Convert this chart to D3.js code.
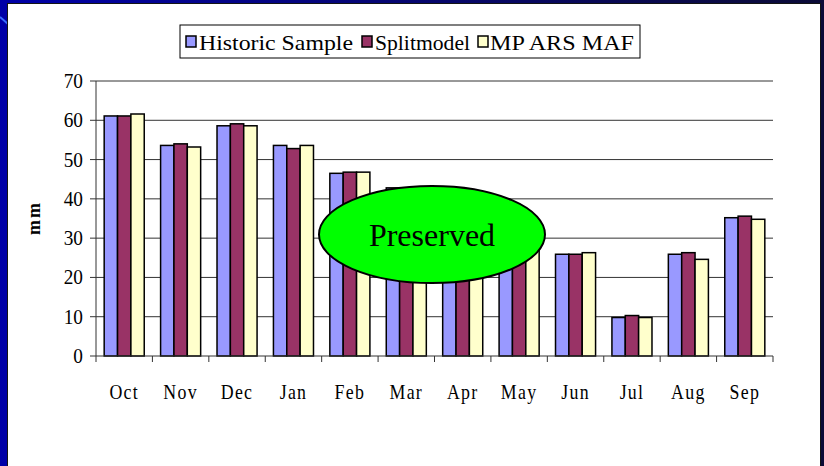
<!DOCTYPE html>
<html>
<head>
<meta charset="utf-8">
<script src="https://cdn.jsdelivr.net/npm/d3@7"></script>
<style>
  body { margin: 0; }
  svg { display: block; font-family: "Liberation Serif", "Times New Roman", serif; }
</style>
</head>
<body>
<script>
// chart data
const months = ['Oct', 'Nov', 'Dec', 'Jan', 'Feb', 'Mar', 'Apr', 'May', 'Jun', 'Jul', 'Aug', 'Sep'];
const seriesNames = ['Historic Sample', 'Splitmodel', 'MPARSMAF'];
const historic = [61.1, 53.6, 58.6, 53.6, 46.5, 42.8, 34.0, 29.0, 25.9, 9.8, 25.9, 35.2];
const splitmodel = [61.1, 54.0, 59.1, 52.8, 46.8, 42.5, 33.5, 29.5, 25.9, 10.3, 26.3, 35.6];
const mparsmaf = [61.6, 53.2, 58.6, 53.6, 46.8, 42.0, 33.0, 28.5, 26.3, 9.8, 24.6, 34.8];
const yTicks = [0, 10, 20, 30, 40, 50, 60, 70];
const colors = ['#9999ff', '#993366', '#ffffcc'];

let width = 824;
let height = 466;

const svg = d3.select('body')
    .append('svg')
    .attr('width', width)
    .attr('height', height);

// slide background
let grad = svg.append('defs').append('linearGradient')
    .attr('id', 'bg')
    .attr('x1', 0).attr('x2', 1).attr('y1', 0).attr('y2', 0);
grad.append('stop').attr('offset', '0%').attr('stop-color', '#0000a8');
grad.append('stop').attr('offset', '100%').attr('stop-color', '#0b0b36');

svg.append('rect')
    .attr('width', width).attr('height', height)
    .attr('fill', 'url(#bg)');
svg.append('line')
    .attr('x1', 0).attr('y1', 17).attr('x2', 8).attr('y2', 24)
    .attr('stroke', '#3a6cff').attr('stroke-width', 2);
svg.append('rect')
    .attr('x', 7).attr('y', 3)
    .attr('width', 814).attr('height', height)
    .attr('fill', '#141414');
svg.append('rect')
    .attr('x', 8).attr('y', 4)
    .attr('width', 812).attr('height', height)
    .attr('fill', '#ffffff');

let x0 = d3.scaleBand()
    .domain(months)
    .range([96, 773]);

let x1 = d3.scaleBand()
    .domain(seriesNames)
    .range([x0.bandwidth() * 0.145, x0.bandwidth() * 0.855]);

let y = d3.scaleLinear()
    .domain([0, 70])
    .range([356, 81]);

let g = svg.append('g');

// gridlines
g.selectAll('.grid')
    .data(yTicks.slice(1))
    .enter()
    .append('line')
    .attr('class', 'grid')
    .attr('x1', 96).attr('x2', 773)
    .attr('y1', d => y(d)).attr('y2', d => y(d))
    .attr('stroke', '#333')
    .attr('stroke-width', 1);

// bars
let table = months.map((m, i) => ({
    month: m,
    values: [historic[i], splitmodel[i], mparsmaf[i]]
}));

let groups = g.selectAll('.month')
    .data(table)
    .enter()
    .append('g')
    .attr('transform', d => 'translate(' + x0(d.month) + ',0)');

groups.selectAll('rect')
    .data(d => d.values.map((v, k) => ({ name: seriesNames[k], value: v, k: k })))
    .enter()
    .append('rect')
    .attr('x', d => x1(d.name))
    .attr('width', x1.bandwidth())
    .attr('y', d => y(d.value))
    .attr('height', d => y(0) - y(d.value))
    .attr('fill', d => colors[d.k])
    .attr('stroke', '#000')
    .attr('stroke-width', 1.5);

// y axis
g.append('line')
    .attr('x1', 96).attr('x2', 96)
    .attr('y1', y(70)).attr('y2', y(0))
    .attr('stroke', '#333');
g.selectAll('.ytick')
    .data(yTicks)
    .enter()
    .append('line')
    .attr('x1', 90).attr('x2', 96)
    .attr('y1', d => y(d)).attr('y2', d => y(d))
    .attr('stroke', '#333');
g.selectAll('.ylab')
    .data(yTicks)
    .enter()
    .append('text')
    .attr('transform', d => 'translate(83,' + (y(d) + 7) + ') scale(0.92,1)')
    .attr('text-anchor', 'end')
    .attr('font-size', 21)
    .text(d => d);

// x axis
g.append('line')
    .attr('x1', 96).attr('x2', 773)
    .attr('y1', y(0)).attr('y2', y(0))
    .attr('stroke', '#333');
g.selectAll('.xtick')
    .data(months.concat(['end']))
    .enter()
    .append('line')
    .attr('x1', (d, i) => 96 + i * x0.step())
    .attr('x2', (d, i) => 96 + i * x0.step())
    .attr('y1', y(0)).attr('y2', y(0) + 6)
    .attr('stroke', '#333');
g.selectAll('.xlab')
    .data(months)
    .enter()
    .append('text')
    .attr('transform', d => 'translate(' + (x0(d) + x0.bandwidth() / 2) + ',399) scale(0.85,1)')
    .attr('text-anchor', 'middle')
    .attr('font-size', 21)
    .attr('letter-spacing', 1.5)
    .text(d => d);

// y title
svg.append('text')
    .attr('transform', 'translate(40,218) rotate(-90)')
    .attr('text-anchor', 'middle')
    .attr('font-size', 18)
    .attr('font-weight', 'bold')
    .attr('letter-spacing', 2)
    .text('mm');

// legend
let legend = svg.append('g');
legend.append('rect')
    .attr('x', 180).attr('y', 25)
    .attr('width', 460).attr('height', 33)
    .attr('fill', '#fff')
    .attr('stroke', '#000');

let legendPos = [
    { sx: 186, tx: 199, w: 154 },
    { sx: 362, tx: 375, w: 95 },
    { sx: 478, tx: 490, w: 144 }
];
let items = legend.selectAll('.item')
    .data(seriesNames)
    .enter()
    .append('g');
items.append('rect')
    .attr('x', (d, i) => legendPos[i].sx)
    .attr('y', 36)
    .attr('width', 10).attr('height', 11)
    .attr('fill', (d, i) => colors[i])
    .attr('stroke', '#000')
    .attr('stroke-width', 1.5);
items.append('text')
    .attr('x', (d, i) => legendPos[i].tx)
    .attr('y', 50)
    .attr('font-size', 22)
    .attr('textLength', (d, i) => legendPos[i].w)
    .attr('lengthAdjust', 'spacingAndGlyphs')
    .text(d => d === 'MPARSMAF' ? 'MP ARS MAF' : d);

// annotation ellipse
svg.append('ellipse')
    .attr('cx', 432).attr('cy', 234.5)
    .attr('rx', 113).attr('ry', 48.5)
    .attr('fill', '#00ff00')
    .attr('stroke', '#000')
    .attr('stroke-width', 2);
svg.append('text')
    .attr('x', 432).attr('y', 246)
    .attr('text-anchor', 'middle')
    .attr('font-size', 32)
    .text('Preserved');
</script>
</body>
</html>
